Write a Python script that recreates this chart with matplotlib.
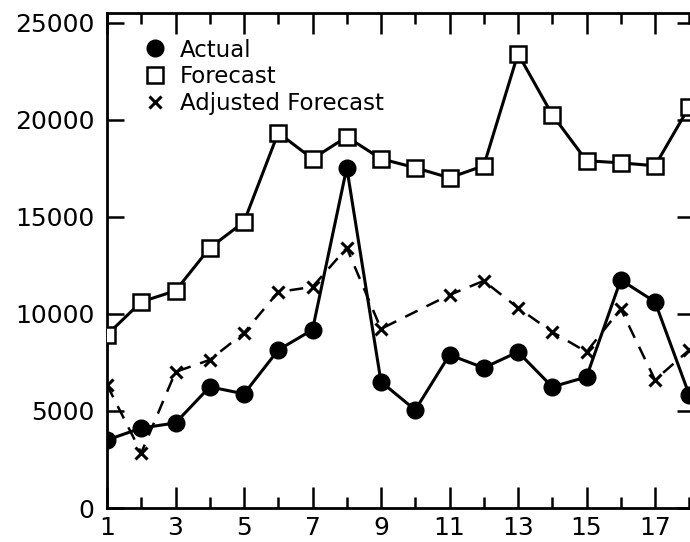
import matplotlib
matplotlib.use("Agg")
import matplotlib.pyplot as plt
from matplotlib.lines import Line2D
import numpy as np

# periods
periods = list(range(1, 19))
actual = [3500, 4120, 4380, 6240, 5880, 8140, 9180, 17530, 6500, 5050,
          7890, 7220, 8040, 6240, 6750, 11750, 10620, 5830]
forecast = [8920, 10620, 11190, 13400, 14740, 19330, 17990, 19120, 17990, 17530,
            17010, 17630, 23400, 20260, 17890, 17780, 17630, 20670]
# adjusted forecast has no point at period 10
adj_periods = [1, 2, 3, 4, 5, 6, 7, 8, 9, 11, 12, 13, 14, 15, 16, 17, 18]
adjusted = [6340, 2840, 7010, 7630, 9020, 11130, 11390, 13400, 9230,
            10980, 11700, 10310, 9070, 8040, 10260, 6600, 8140]

fig = plt.figure(figsize=(6.9, 5.42), dpi=100)
ax = fig.add_axes([107 / 690, 34 / 542, 587 / 690, 495 / 542])

ax.plot(periods, forecast, color="black", lw=2.2, marker="s", ms=11,
        mfc="white", mec="black", mew=1.8, zorder=3)
ax.plot(adj_periods, adjusted, color="black", lw=1.8, ls=(0, (5.5, 4)),
        marker="x", ms=9, mew=2.2, zorder=2)
ax.plot(periods, actual, color="black", lw=2.2, marker="o", ms=12,
        mfc="black", mec="black", zorder=4)

ax.set_xlim(1, 1 + 587 / 34.25)
ax.set_ylim(0, 25500)

ax.set_xticks(range(1, 19, 2))
ax.set_xticks(range(2, 19, 2), minor=True)
ax.set_yticks(range(0, 25001, 5000))
ax.set_yticklabels(["0", "5000", "10000", "15000", "20000", "25000"])

ax.tick_params(axis="x", which="major", direction="in", length=15, width=1.8,
               top=True, bottom=True, labelsize=18, pad=6)
ax.tick_params(axis="x", which="minor", direction="in", length=8, width=1.8,
               top=True, bottom=True)
ax.tick_params(axis="y", which="major", direction="in", length=12, width=1.8,
               left=True, right=True, labelsize=18, pad=9)

for s in ax.spines.values():
    s.set_linewidth(2.0)

handles = [
    Line2D([], [], ls="none", marker="o", ms=12, mfc="black", mec="black"),
    Line2D([], [], ls="none", marker="s", ms=11, mfc="white", mec="black", mew=1.8),
    Line2D([], [], ls="none", marker="x", ms=9, mew=2.2, color="black"),
]
labels = ["Actual", "Forecast", "Adjusted Forecast"]
ax.legend(handles, labels, loc="upper left", bbox_to_anchor=(0.05, 0.967),
          frameon=False, fontsize=16.5, handlelength=0.8, handletextpad=0.7,
          labelspacing=0.17, borderaxespad=0)

fig.savefig("out.png", dpi=100)
